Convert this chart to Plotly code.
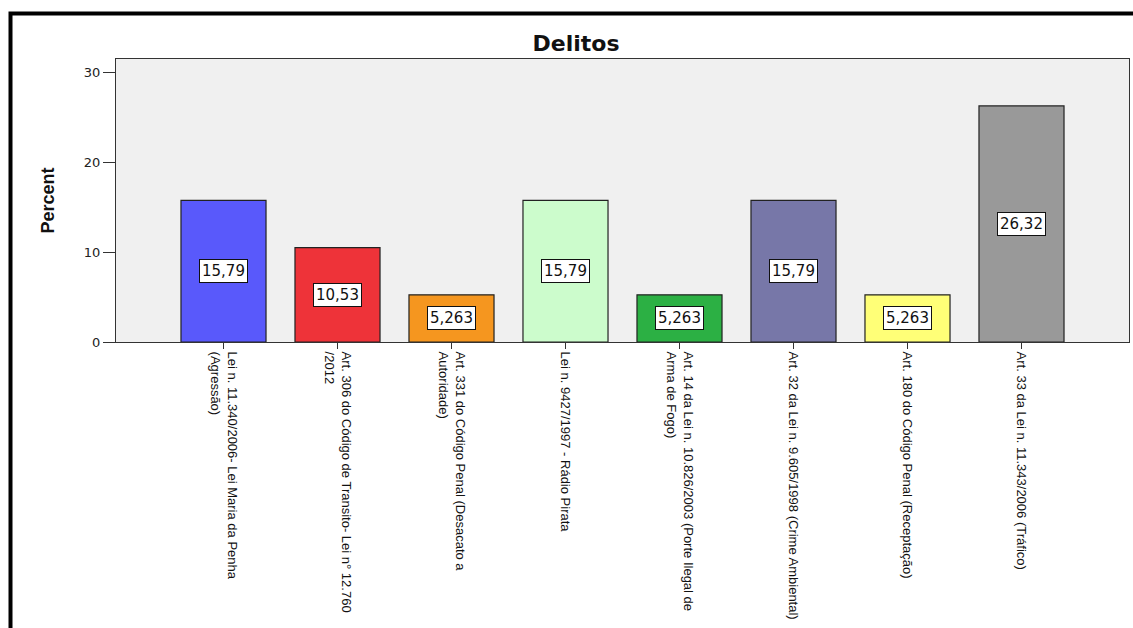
import plotly.graph_objects as go

categories = [
    "Lei n. 11.340/2006- Lei Maria da Penha<br>(Agressão)",
    "Art. 306 do Código de Transito- Lei n° 12.760<br>/2012",
    "Art. 331 do Código Penal (Desacato a<br>Autoridade)",
    "Lei n. 9427/1997 - Rádio Pirata",
    "Art. 14 da Lei n. 10.826/2003 (Porte Ilegal de<br>Arma de Fogo)",
    "Art. 32 da Lei n. 9.605/1998 (Crime Ambiental)",
    "Art. 180 do Código Penal (Receptação)",
    "Art. 33 da Lei n. 11.343/2006 (Tráfico)",
]
percent = [15.79, 10.53, 5.263, 15.79, 5.263, 15.79, 5.263, 26.32]
bar_colors = ["#5959fb", "#ee3339", "#f5961f", "#ccfccc", "#2cb044", "#7777a8", "#ffff77", "#999999"]
y_ticks = [0, 10, 20, 30]

W, H = 1133, 628
ML, MR, MT, MB = 116, 4, 59, 286
PW, PH = W - ML - MR, H - MT - MB

fig = go.Figure()
fig.add_trace(go.Bar(
    x=list(range(len(categories))), y=percent,
    marker=dict(color=bar_colors, line=dict(color="#222222", width=1.2)),
    width=0.746, showlegend=False, hoverinfo="y",
))

for i, v in enumerate(percent):
    fig.add_annotation(
        x=i, y=v / 2, xref="x", yref="y",
        text=f"{v:.4g}".replace(".", ","), showarrow=False,
        font=dict(family="DejaVu Sans", size=15, color="#111111"),
        bgcolor="white", bordercolor="#111111", borderwidth=1, borderpad=2,
    )

# outer frame of chart
fx = (10.5 - ML) / PW
fy = 1 + (MT - 13.5) / PH
fig.add_shape(type="rect", xref="paper", yref="paper",
              x0=fx, x1=1.5, y0=-1.5, y1=fy,
              line=dict(color="black", width=4), fillcolor="rgba(0,0,0,0)", layer="above")

fig.update_layout(
    width=W, height=H,
    margin=dict(l=ML, r=MR, t=MT, b=MB, autoexpand=False),
    paper_bgcolor="white", plot_bgcolor="#f0f0f0",
    title=dict(text="<b>Delitos</b>", x=576 / W, xref="container", xanchor="center",
               y=1 - 43 / H, yref="container", yanchor="middle",
               font=dict(family="DejaVu Sans", size=22, color="#111111")),
    bargap=0.25,
)
fig.update_xaxes(
    range=[-0.943, 7.943], tickmode="array", tickvals=list(range(len(categories))),
    ticktext=categories, tickangle=90,
    tickfont=dict(family="Liberation Sans", size=13, color="#111111"),
    ticks="outside", ticklen=6, tickcolor="#333333",
    showline=True, linecolor="#333333", linewidth=1, mirror=True,
    showgrid=False, zeroline=False, automargin=False,
)
fig.update_yaxes(
    range=[0, 31.55], tickmode="array", tickvals=y_ticks,
    tickfont=dict(family="DejaVu Sans", size=13, color="#222222"),
    ticks="outside", ticklen=12, tickcolor="#333333",
    showline=True, linecolor="#333333", linewidth=1, mirror=True,
    showgrid=False, zeroline=False, automargin=False,
    title=dict(text="<b>Percent</b>", standoff=24,
               font=dict(family="Liberation Sans", size=18, color="#111111")),
)

fig.write_html("out.html")
